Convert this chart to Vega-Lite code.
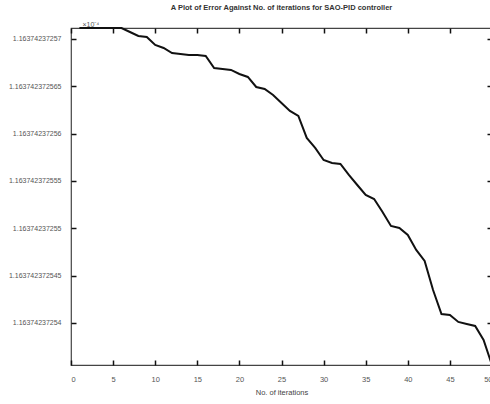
{
  "$schema": "https://vega.github.io/schema/vega-lite/v6.json",
  "autosize": {"type": "none"},
  "width": 421,
  "height": 337,
  "padding": {"left": 71, "top": 28, "right": 0, "bottom": 39},
  "background": "white",
  "config": {
    "view": {"stroke": "#444444", "strokeWidth": 1.2},
    "font": "Liberation Sans",
    "axis": {"domain": false, "grid": false}
  },
  "title": {
    "text": "A Plot of Error Against No. of iterations for SAO-PID controller",
    "font": "Liberation Sans",
    "fontSize": 7.5,
    "fontWeight": "bold",
    "color": "#333333",
    "offset": 9,
    "anchor": "middle"
  },
  "data": {
    "values": [
      {"iteration": 1, "error": 1.16374237257115},
      {"iteration": 2, "error": 1.16374237257115},
      {"iteration": 3, "error": 1.16374237257115},
      {"iteration": 4, "error": 1.16374237257115},
      {"iteration": 5, "error": 1.16374237257115},
      {"iteration": 6, "error": 1.16374237257115},
      {"iteration": 7, "error": 1.16374237257073},
      {"iteration": 8, "error": 1.16374237257031},
      {"iteration": 9, "error": 1.1637423725702},
      {"iteration": 10, "error": 1.16374237256936},
      {"iteration": 11, "error": 1.16374237256904},
      {"iteration": 12, "error": 1.16374237256851},
      {"iteration": 13, "error": 1.16374237256841},
      {"iteration": 14, "error": 1.1637423725683},
      {"iteration": 15, "error": 1.1637423725683},
      {"iteration": 16, "error": 1.1637423725682},
      {"iteration": 17, "error": 1.16374237256693},
      {"iteration": 18, "error": 1.16374237256682},
      {"iteration": 19, "error": 1.16374237256672},
      {"iteration": 20, "error": 1.16374237256629},
      {"iteration": 21, "error": 1.16374237256598},
      {"iteration": 22, "error": 1.16374237256492},
      {"iteration": 23, "error": 1.16374237256471},
      {"iteration": 24, "error": 1.16374237256408},
      {"iteration": 25, "error": 1.16374237256323},
      {"iteration": 26, "error": 1.16374237256239},
      {"iteration": 27, "error": 1.16374237256186},
      {"iteration": 28, "error": 1.16374237255954},
      {"iteration": 29, "error": 1.16374237255848},
      {"iteration": 30, "error": 1.16374237255721},
      {"iteration": 31, "error": 1.1637423725569},
      {"iteration": 32, "error": 1.16374237255679},
      {"iteration": 33, "error": 1.16374237255563},
      {"iteration": 34, "error": 1.16374237255457},
      {"iteration": 35, "error": 1.16374237255352},
      {"iteration": 36, "error": 1.16374237255309},
      {"iteration": 37, "error": 1.16374237255172},
      {"iteration": 38, "error": 1.16374237255024},
      {"iteration": 39, "error": 1.16374237255003},
      {"iteration": 40, "error": 1.16374237254929},
      {"iteration": 41, "error": 1.16374237254771},
      {"iteration": 42, "error": 1.16374237254655},
      {"iteration": 43, "error": 1.16374237254348},
      {"iteration": 44, "error": 1.16374237254095},
      {"iteration": 45, "error": 1.16374237254084},
      {"iteration": 46, "error": 1.16374237254011},
      {"iteration": 47, "error": 1.16374237253989},
      {"iteration": 48, "error": 1.16374237253968},
      {"iteration": 49, "error": 1.1637423725382},
      {"iteration": 50, "error": 1.16374237253556}
    ]
  },
  "layer": [
    {
      "mark": {"type": "line", "color": "#111111", "strokeWidth": 2},
      "encoding": {
        "x": {
          "field": "iteration", "type": "quantitative",
          "scale": {"domain": [0, 50], "nice": false, "zero": false},
          "axis": {
            "orient": "bottom", "values": [0,5,10,15,20,25,30,35,40,45,50],
            "offset": -5, "tickSize": 5, "tickColor": "#111111", "tickWidth": 1.5,
            "labelFontSize": 7.5, "labelColor": "#555555", "labelPadding": 10,
            "title": "No. of iterations", "titleFontSize": 7.5, "titleFontWeight": "normal",
            "titleColor": "#444444", "titlePadding": 6
          }
        },
        "y": {
          "field": "error", "type": "quantitative",
          "scale": {"domain": [1.16374237253556, 1.16374237257115], "nice": false, "zero": false},
          "axis": {
            "orient": "left",
            "values": [1.16374237254, 1.163742372545, 1.16374237255, 1.163742372555, 1.16374237256, 1.163742372565, 1.16374237257],
            "format": ".12~f",
            "offset": -5, "tickSize": 5, "tickColor": "#111111", "tickWidth": 1.5,
            "labelFontSize": 7, "labelColor": "#555555", "labelPadding": 10,
            "title": "×10⁻⁴", "titleAngle": 0, "titleAlign": "left", "titleBaseline": "bottom",
            "titleX": 6, "titleY": -1, "titleFontSize": 7, "titleFontWeight": "normal", "titleColor": "#555555"
          }
        }
      }
    },
    {
      "mark": {"type": "line", "strokeOpacity": 0},
      "encoding": {
        "x": {
          "field": "iteration", "type": "quantitative",
          "axis": {
            "orient": "top", "values": [0,5,10,15,20,25,30,35,40,45,50],
            "offset": -5, "tickSize": 5, "tickColor": "#111111", "tickWidth": 1.5, "labels": false, "title": null
          }
        },
        "y": {
          "field": "error", "type": "quantitative",
          "axis": {
            "orient": "right",
            "values": [1.16374237254, 1.163742372545, 1.16374237255, 1.163742372555, 1.16374237256, 1.163742372565, 1.16374237257],
            "offset": -5, "tickSize": 5, "tickColor": "#111111", "tickWidth": 1.5, "labels": false, "title": null
          }
        }
      }
    }
  ],
  "resolve": {"axis": {"x": "independent", "y": "independent"}}
}
